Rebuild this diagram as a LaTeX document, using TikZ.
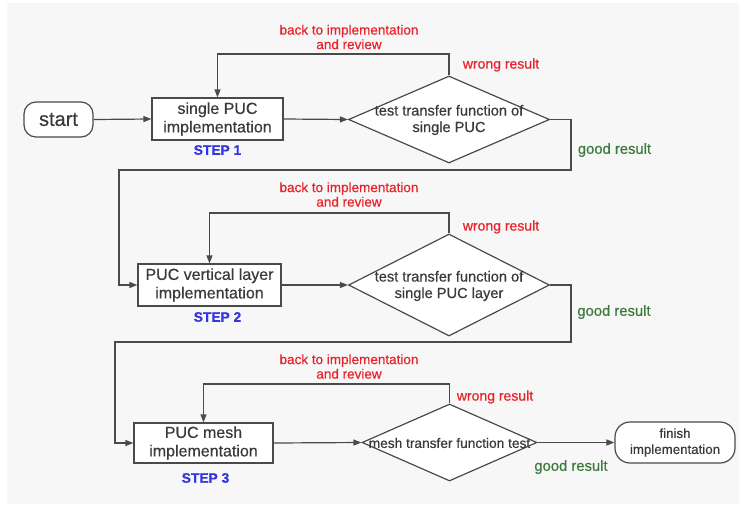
\documentclass[tikz,border=0pt]{standalone}
\usepackage{fontspec}
\setmainfont{Liberation Sans}[FakeBold=0.5]
\usetikzlibrary{shapes.geometric,arrows.meta}
\definecolor{bg}{HTML}{F7F7F7}
\definecolor{ln}{HTML}{4A4A4A}
\definecolor{lred}{HTML}{E8232B}
\definecolor{lgreen}{HTML}{3C7A3C}
\definecolor{lblue}{HTML}{3434E0}
\definecolor{txt}{HTML}{3A3A3A}
\tikzset{
  conn/.style={draw=ln, line width=1.2pt},
  arr/.style={conn, -{Triangle[length=8pt,width=6pt]}},
  procbox/.style={draw=ln, line width=1.2pt, fill=white, inner sep=0pt, align=center, text=txt,
    font=\fontsize{16}{18.5}\selectfont},
  termbox/.style={draw=ln, line width=1.2pt, fill=white, inner sep=0pt, align=center, text=txt},
  dia/.style={diamond, draw=ln, line width=1.2pt, fill=white, inner sep=0pt},
  diatext/.style={align=center, text=txt, inner sep=0pt, font=\fontsize{14.6}{16.5}\selectfont},
  redlbl/.style={text=lred, align=center, inner sep=0pt, font=\fontsize{13.5}{14.5}\selectfont},
  wronglbl/.style={text=lred, inner sep=0pt, font=\fontsize{14}{16}\selectfont},
  goodlbl/.style={text=lgreen, inner sep=0pt, font=\fontsize{14.8}{16}\selectfont},
  steplbl/.style={text=lblue, inner sep=0pt, font=\bfseries\fontsize{13.8}{16}\selectfont},
}
\begin{document}
\begin{tikzpicture}[x=1pt,y=-1pt]
\useasboundingbox (0,0) rectangle (739,504);
\fill[white] (0,0) rectangle (739,504);
\fill[bg] (7,3) rectangle (739,504);

% nodes
\node[termbox, rounded corners=12pt, minimum width=69pt, minimum height=35pt,
  font=\fontsize{20}{22}\selectfont] (start) at (58.5,119.5) {start};
\node[procbox, minimum width=131pt, minimum height=42pt] (b1) at (217.5,119) {single PUC\\implementation};
\node[dia, minimum width=201pt, minimum height=87pt] (d1) at (449,119.5) {};
\node[diatext] (d1t) at (449,120) {test transfer function of\\single PUC};

\node[procbox, minimum width=143pt, minimum height=42pt] (b2) at (209.5,285) {PUC vertical layer\\implementation};
\node[dia, minimum width=201pt, minimum height=102pt] (d2) at (449,285) {};
\node[diatext] (d2t) at (449,286) {test transfer function of\\single PUC layer};

\node[procbox, minimum width=139pt, minimum height=40pt] (b3) at (203.5,443) {PUC mesh\\implementation};
\node[dia, minimum width=175pt, minimum height=77pt] (d3) at (449.5,442.5) {};
\node[diatext, font=\fontsize{13.7}{16}\selectfont] (d3t) at (449.5,443) {mesh transfer function test};

\node[termbox, rounded corners=15pt, minimum width=120pt, minimum height=41pt,
  font=\fontsize{13.3}{16}\selectfont] (fin) at (675,442.5) {finish\\implementation};

% labels
\node[steplbl] (s1) at (217.5,150) {STEP 1};
\node[steplbl] (s2) at (217.5,317) {STEP 2};
\node[steplbl] (s3) at (205.5,478) {STEP 3};

\node[redlbl] (r1) at (349,37) {back to implementation\\and review};
\node[redlbl] (r2) at (349,194.5) {back to implementation\\and review};
\node[redlbl] (r3) at (349,366.5) {back to implementation\\and review};

\node[wronglbl] (w1) at (501,65) {wrong result};
\node[wronglbl] (w2) at (501,227) {wrong result};
\node[wronglbl] (w3) at (495,397) {wrong result};

\node[goodlbl] (g1) at (614.5,150) {good result};
\node[goodlbl] (g2) at (614,312) {good result};
\node[goodlbl] (g3) at (571,467) {good result};

% helper coordinates
\coordinate (c1a) at (571,119.5);
\coordinate (c1b) at (571,170);
\coordinate (c1c) at (119,170);
\coordinate (c2a) at (571,285);
\coordinate (c2b) at (571,342);
\coordinate (c2c) at (115,342);
\coordinate (l1) at (217.5,54);
\coordinate (l2) at (209.5,213);
\coordinate (l3) at (203.5,384);

% connectors
\draw[arr] (start.east) -- (b1.west);
\draw[arr] (b1.east) -- (d1.west);
\draw[arr] (d1.north) |- (l1) -- (b1.north);
\draw[arr] (d1.east) -- (c1a) -- (c1b) -- (c1c) |- (b2.west);

\draw[arr] (b2.east) -- (d2.west);
\draw[arr] (d2.north) |- (l2) -- (b2.north);
\draw[arr] (d2.east) -- (c2a) -- (c2b) -- (c2c) |- (b3.west);

\draw[arr] (b3.east) -- (d3.west);
\draw[arr] (d3.north) |- (l3) -- (b3.north);
\draw[arr] (d3.east) -- (fin.west);
\end{tikzpicture}
\end{document}
